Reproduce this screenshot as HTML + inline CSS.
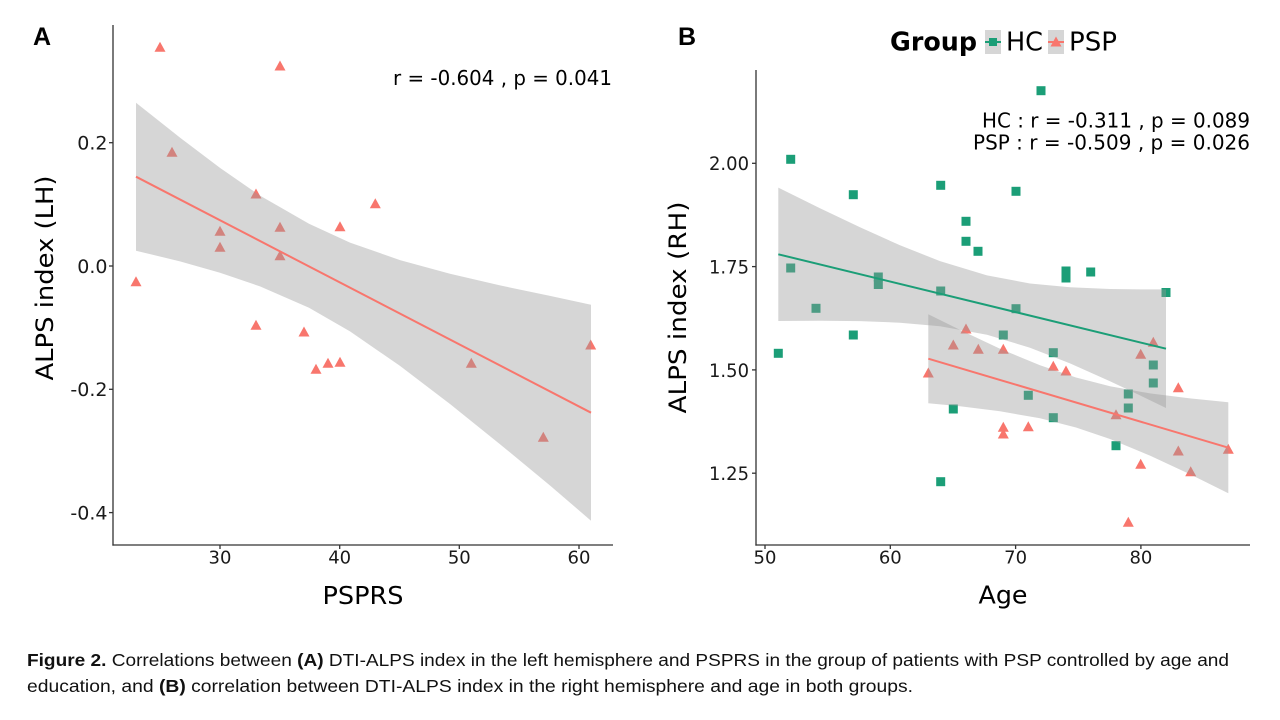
<!DOCTYPE html>
<html><head><meta charset="utf-8"><style>
html,body{margin:0;padding:0;background:#fff;}
svg{display:block;}
text{font-family:"DejaVu Sans","Liberation Sans",sans-serif;}
.tk{font-size:18px;fill:#1a1a1a;}
.tky{font-size:19px;fill:#1a1a1a;}
.cap{font-family:"Liberation Sans",sans-serif;font-size:17.5px;fill:#111;}
</style></head><body>
<svg width="1280" height="720" viewBox="0 0 1280 720" xmlns="http://www.w3.org/2000/svg">
<rect width="1280" height="720" fill="#fff"/>

<!-- ========== PANEL A ========== -->
<text x="33" y="45" style="font-family:'Liberation Sans',sans-serif;font-weight:bold;font-size:25px" fill="#000">A</text>

<g fill="#F8766D">
<path d="M-5.5 4.5h11L0-5.5z" transform="translate(160 47.3)"/>
<path d="M-5.5 4.5h11L0-5.5z" transform="translate(280 66)"/>
<path d="M-5.5 4.5h11L0-5.5z" transform="translate(172 152.3)"/>
<path d="M-5.5 4.5h11L0-5.5z" transform="translate(256 194)"/>
<path d="M-5.5 4.5h11L0-5.5z" transform="translate(375.3 203.7)"/>
<path d="M-5.5 4.5h11L0-5.5z" transform="translate(340 226.7)"/>
<path d="M-5.5 4.5h11L0-5.5z" transform="translate(280 227.3)"/>
<path d="M-5.5 4.5h11L0-5.5z" transform="translate(220 231.3)"/>
<path d="M-5.5 4.5h11L0-5.5z" transform="translate(220 247.3)"/>
<path d="M-5.5 4.5h11L0-5.5z" transform="translate(280 255.7)"/>
<path d="M-5.5 4.5h11L0-5.5z" transform="translate(136 281.7)"/>
<path d="M-5.5 4.5h11L0-5.5z" transform="translate(256 325.3)"/>
<path d="M-5.5 4.5h11L0-5.5z" transform="translate(304 332)"/>
<path d="M-5.5 4.5h11L0-5.5z" transform="translate(316 369.3)"/>
<path d="M-5.5 4.5h11L0-5.5z" transform="translate(328 363.3)"/>
<path d="M-5.5 4.5h11L0-5.5z" transform="translate(340 362.3)"/>
<path d="M-5.5 4.5h11L0-5.5z" transform="translate(471.3 363.3)"/>
<path d="M-5.5 4.5h11L0-5.5z" transform="translate(543.3 437.3)"/>
<path d="M-5.5 4.5h11L0-5.5z" transform="translate(590.7 345)"/>
</g>

<path fill="#999999" fill-opacity="0.4" d="M136,102.7 L180,137.6 L220,167.9 L260,195.6 L309,223.8 L350,242.6 L400,260.1 L450,273.8 L500,285.4 L550,295.9 L591,304.7 L591,520.7 L550,485.5 L500,444.2 L450,404.0 L400,365.9 L350,331.4 L309,307.8 L260,286.4 L220,272.7 L180,261.4 L136,250.7 Z"/>
<line x1="136" y1="176.7" x2="591" y2="412.7" stroke="#F8766D" stroke-width="2"/>

<g stroke="#333" stroke-width="1.3" fill="none">
<line x1="113" y1="25" x2="113" y2="545.6"/>
<line x1="112.4" y1="545" x2="613" y2="545"/>
<line x1="109" y1="142.7" x2="113" y2="142.7"/>
<line x1="109" y1="266" x2="113" y2="266"/>
<line x1="109" y1="389.3" x2="113" y2="389.3"/>
<line x1="109" y1="512.6" x2="113" y2="512.6"/>
<line x1="220" y1="545" x2="220" y2="549"/>
<line x1="339.7" y1="545" x2="339.7" y2="549"/>
<line x1="459.3" y1="545" x2="459.3" y2="549"/>
<line x1="579" y1="545" x2="579" y2="549"/>
</g>
<g class="tky" text-anchor="end">
<text x="107.5" y="149.6">0.2</text>
<text x="107.5" y="272.9">0.0</text>
<text x="107.5" y="396.2">-0.2</text>
<text x="107.5" y="519.5">-0.4</text>
</g>
<g class="tk" text-anchor="middle">
<text x="220" y="563.5">30</text>
<text x="339.7" y="563.5">40</text>
<text x="459.3" y="563.5">50</text>
<text x="579" y="563.5">60</text>
</g>
<text x="363" y="604" text-anchor="middle" style="font-size:25px" fill="#000" textLength="81" lengthAdjust="spacingAndGlyphs">PSPRS</text>
<text transform="translate(53 278) rotate(-90)" x="0" y="0" text-anchor="middle" style="font-size:24px" fill="#000" textLength="205" lengthAdjust="spacingAndGlyphs">ALPS index (LH)</text>
<text x="612" y="85" text-anchor="end" style="font-size:20px" fill="#000" textLength="219" lengthAdjust="spacingAndGlyphs">r = -0.604 , p = 0.041</text>

<!-- ========== PANEL B ========== -->
<text x="678" y="45" style="font-family:'Liberation Sans',sans-serif;font-weight:bold;font-size:25px" fill="#000">B</text>

<text x="890" y="50.5" style="font-size:26px;font-weight:bold" fill="#000" textLength="87" lengthAdjust="spacingAndGlyphs">Group</text>
<rect x="985" y="30" width="16" height="24" fill="#d6d6d6"/>
<line x1="985" y1="42" x2="1001" y2="42" stroke="#1B9E77" stroke-width="2"/>
<rect x="989" y="38" width="8" height="8" fill="#1B9E77"/>
<text x="1006" y="50.5" style="font-size:26px" fill="#000" textLength="37" lengthAdjust="spacingAndGlyphs">HC</text>
<rect x="1048" y="30" width="16" height="24" fill="#d6d6d6"/>
<line x1="1048" y1="42" x2="1064" y2="42" stroke="#F8766D" stroke-width="2"/>
<path d="M-5.5 4.5h11L0-5.5z" fill="#F8766D" transform="translate(1056 42)"/>
<text x="1069" y="50.5" style="font-size:26px" fill="#000" textLength="48" lengthAdjust="spacingAndGlyphs">PSP</text>

<g fill="#1B9E77">
<rect x="786.2" y="154.8" width="9" height="9"/>
<rect x="1036.5" y="86.2" width="9" height="9"/>
<rect x="848.8" y="190.2" width="9" height="9"/>
<rect x="936.2" y="180.8" width="9" height="9"/>
<rect x="1011.5" y="186.8" width="9" height="9"/>
<rect x="961.5" y="216.8" width="9" height="9"/>
<rect x="961.5" y="236.8" width="9" height="9"/>
<rect x="973.5" y="246.8" width="9" height="9"/>
<rect x="786.2" y="263.5" width="9" height="9"/>
<rect x="1061.5" y="266.5" width="9" height="9"/>
<rect x="1061.5" y="273.5" width="9" height="9"/>
<rect x="1086.2" y="267.5" width="9" height="9"/>
<rect x="873.8" y="272.5" width="9" height="9"/>
<rect x="873.8" y="280" width="9" height="9"/>
<rect x="936.2" y="286.5" width="9" height="9"/>
<rect x="1161.5" y="288" width="9" height="9"/>
<rect x="811.5" y="303.8" width="9" height="9"/>
<rect x="1011.5" y="304.2" width="9" height="9"/>
<rect x="848.8" y="330.5" width="9" height="9"/>
<rect x="998.8" y="330.5" width="9" height="9"/>
<rect x="773.8" y="348.8" width="9" height="9"/>
<rect x="1048.8" y="348.2" width="9" height="9"/>
<rect x="1148.8" y="360.5" width="9" height="9"/>
<rect x="1148.8" y="378.5" width="9" height="9"/>
<rect x="1123.8" y="389.5" width="9" height="9"/>
<rect x="1023.8" y="390.8" width="9" height="9"/>
<rect x="948.8" y="404.5" width="9" height="9"/>
<rect x="1123.8" y="403.5" width="9" height="9"/>
<rect x="1048.8" y="413.2" width="9" height="9"/>
<rect x="1111.5" y="441.2" width="9" height="9"/>
<rect x="936.2" y="477.2" width="9" height="9"/>
</g>
<g fill="#F8766D">
<path d="M-5.5 4.5h11L0-5.5z" transform="translate(966 329)"/>
<path d="M-5.5 4.5h11L0-5.5z" transform="translate(953.3 345)"/>
<path d="M-5.5 4.5h11L0-5.5z" transform="translate(978.3 349.3)"/>
<path d="M-5.5 4.5h11L0-5.5z" transform="translate(1003.3 349.3)"/>
<path d="M-5.5 4.5h11L0-5.5z" transform="translate(1153.3 342.3)"/>
<path d="M-5.5 4.5h11L0-5.5z" transform="translate(1140.7 354.3)"/>
<path d="M-5.5 4.5h11L0-5.5z" transform="translate(1053.3 366.3)"/>
<path d="M-5.5 4.5h11L0-5.5z" transform="translate(1066 371)"/>
<path d="M-5.5 4.5h11L0-5.5z" transform="translate(928.3 373)"/>
<path d="M-5.5 4.5h11L0-5.5z" transform="translate(1178.3 387.7)"/>
<path d="M-5.5 4.5h11L0-5.5z" transform="translate(1116 414.7)"/>
<path d="M-5.5 4.5h11L0-5.5z" transform="translate(1003.3 427.3)"/>
<path d="M-5.5 4.5h11L0-5.5z" transform="translate(1003.3 434)"/>
<path d="M-5.5 4.5h11L0-5.5z" transform="translate(1028.3 426.7)"/>
<path d="M-5.5 4.5h11L0-5.5z" transform="translate(1228.3 449.3)"/>
<path d="M-5.5 4.5h11L0-5.5z" transform="translate(1178.3 451)"/>
<path d="M-5.5 4.5h11L0-5.5z" transform="translate(1140.7 464.3)"/>
<path d="M-5.5 4.5h11L0-5.5z" transform="translate(1190.7 471.7)"/>
<path d="M-5.5 4.5h11L0-5.5z" transform="translate(1128.3 522.3)"/>
</g>

<path fill="#999999" fill-opacity="0.4" d="M778.3,187.6 L820,208.3 L860,227.3 L900,245.3 L940,261.1 L987,275.4 L1030,283.5 L1070,287.2 L1110,289.0 L1140,289.4 L1166,289.4 L1166,408.0 L1140,395.4 L1110,381.2 L1070,363.4 L1030,347.7 L987,334.8 L940,326.3 L900,322.7 L860,321.1 L820,320.7 L778.3,321.0 Z"/>
<line x1="778.3" y1="254.3" x2="1166" y2="348.7" stroke="#1B9E77" stroke-width="2"/>
<path fill="#999999" fill-opacity="0.4" d="M928.3,314.2 L960,329.9 L1000,348.7 L1040,365.3 L1076,377.5 L1110,386.2 L1150,393.4 L1190,398.4 L1228.3,402.2 L1228.3,493.2 L1190,474.2 L1150,455.6 L1110,439.0 L1076,427.5 L1040,418.3 L1000,411.3 L960,406.3 L928.3,403.2 Z"/>
<line x1="928.3" y1="358.7" x2="1228.3" y2="447.7" stroke="#F8766D" stroke-width="2"/>

<g stroke="#333" stroke-width="1.3" fill="none">
<line x1="756" y1="70" x2="756" y2="545.6"/>
<line x1="755.4" y1="545" x2="1250" y2="545"/>
<line x1="752" y1="163.3" x2="756" y2="163.3"/>
<line x1="752" y1="266.6" x2="756" y2="266.6"/>
<line x1="752" y1="369.9" x2="756" y2="369.9"/>
<line x1="752" y1="473.2" x2="756" y2="473.2"/>
<line x1="765" y1="545" x2="765" y2="549"/>
<line x1="890.3" y1="545" x2="890.3" y2="549"/>
<line x1="1015.6" y1="545" x2="1015.6" y2="549"/>
<line x1="1140.9" y1="545" x2="1140.9" y2="549"/>
</g>
<g class="tky" text-anchor="end">
<text x="749" y="170.2" textLength="40" lengthAdjust="spacingAndGlyphs">2.00</text>
<text x="749" y="273.5" textLength="40" lengthAdjust="spacingAndGlyphs">1.75</text>
<text x="749" y="376.8" textLength="40" lengthAdjust="spacingAndGlyphs">1.50</text>
<text x="749" y="480.1" textLength="40" lengthAdjust="spacingAndGlyphs">1.25</text>
</g>
<g class="tk" text-anchor="middle">
<text x="765" y="563.5">50</text>
<text x="890.3" y="563.5">60</text>
<text x="1015.6" y="563.5">70</text>
<text x="1140.9" y="563.5">80</text>
</g>
<text x="1003" y="603.5" text-anchor="middle" style="font-size:25px" fill="#000" textLength="49" lengthAdjust="spacingAndGlyphs">Age</text>
<text transform="translate(686 307.5) rotate(-90)" x="0" y="0" text-anchor="middle" style="font-size:24px" fill="#000" textLength="212" lengthAdjust="spacingAndGlyphs">ALPS index (RH)</text>
<text x="1250" y="127.3" text-anchor="end" style="font-size:20px" fill="#000" textLength="268" lengthAdjust="spacingAndGlyphs">HC : r = -0.311 , p = 0.089</text>
<text x="1250" y="149.3" text-anchor="end" style="font-size:20px" fill="#000" textLength="277" lengthAdjust="spacingAndGlyphs">PSP : r = -0.509 , p = 0.026</text>

<text class="cap" x="27" y="666" textLength="1202" lengthAdjust="spacingAndGlyphs"><tspan font-weight="bold">Figure 2.</tspan> Correlations between <tspan font-weight="bold">(A)</tspan> DTI-ALPS index in the left hemisphere and PSPRS in the group of patients with PSP controlled by age and</text>
<text class="cap" x="27" y="692" textLength="886" lengthAdjust="spacingAndGlyphs">education, and <tspan font-weight="bold">(B)</tspan> correlation between DTI-ALPS index in the right hemisphere and age in both groups.</text>
</svg>
</body></html>
